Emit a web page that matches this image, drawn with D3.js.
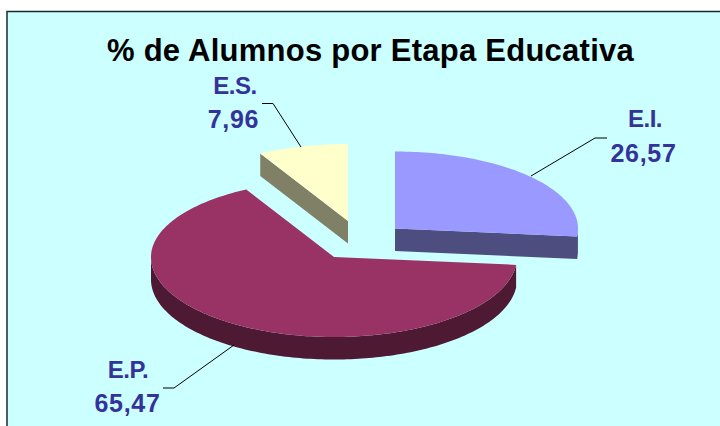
<!DOCTYPE html>
<html>
<head>
<meta charset="utf-8">
<script src="https://cdn.jsdelivr.net/npm/d3@7"></script>
<style>
  html, body { margin: 0; background: #fff; }
  svg { display: block; }
  text { font-family: "Liberation Sans", Arial, sans-serif; font-weight: bold; }
</style>
</head>
<body>
<svg id="chart" width="720" height="426"></svg>
<script>
const categories = ['E.I.', 'E.P.', 'E.S.'];
const values = [26.57, 65.47, 7.96];
const valueLabels = ['26,57', '65,47', '7,96'];
const topColors = ['#9999ff', '#993366', '#ffffcc'];
const sideColors = ['#4d4d80', '#4d1933', '#808066'];

// the near half of the rim is a bit fatter, the original has some perspective
const rx = 183, ryBack = 77, ryFront = 80, depth = 22.5;
// each slice is pulled out of the pie by its own amount
const centers = [[395, 228.5], [334, 257], [348, 221]];
// label position + leader line, per slice
const namePos = [[645, 127], [128, 378], [235, 94]];
const valuePos = [[643.5, 162], [127.5, 412], [233.5, 128]];
const leaders = [
  [[531, 176], [595, 138], [607, 138]],
  [[234, 345], [174, 388], [163, 388]],
  [[301, 147], [273, 103.5], [262, 103.5]]
];

const svg = d3.select('#chart');

// background panel, runs off the right and bottom of the picture
svg.append('rect')
  .attr('x', 7).attr('y', 11.5)
  .attr('width', 730).attr('height', 430)
  .attr('fill', '#ccffff')
  .attr('stroke', '#1a2a2a')
  .attr('stroke-width', 1.5);

svg.append('text')
  .attr('x', 370.5)
  .attr('y', 61)
  .attr('text-anchor', 'middle')
  .attr('fill', '#000')
  .style('font-size', '31px')
  .style('letter-spacing', '0.25px')
  .text('% de Alumnos por Etapa Educativa');

const arcs = d3.pie().sort(null)(values);
const line = d3.line();

// point on the rim, angle clockwise from 12 o'clock
const rim = (c, a) => {
  const cos = Math.cos(a);
  return [c[0] + rx * Math.sin(a), c[1] - (cos > 0 ? ryBack : ryFront) * cos];
};
const rimPoints = (c, from, to) => d3.range(from, to, 0.02).concat(to).map(a => rim(c, a));
const drop = p => [p[0], p[1] + depth];

// draw back to front
[2, 0, 1].forEach(i => {
  const d = arcs[i], c = centers[i];
  const g = svg.append('g');

  // curved wall, only the part of the rim facing the viewer
  const from = Math.max(d.startAngle, Math.PI / 2);
  const to = Math.min(d.endAngle, 3 * Math.PI / 2);
  if (to > from) {
    const upper = rimPoints(c, from, to);
    g.append('path')
      .attr('d', line(upper.concat(upper.map(drop).reverse())) + 'Z')
      .attr('fill', sideColors[i]);
  }

  // flat cut wall: E.I. shows its end cut, E.S. its start cut, E.P. none
  if (i !== 1) {
    const p = rim(c, i === 0 ? d.endAngle : d.startAngle);
    g.append('path')
      .attr('d', line([c, p, drop(p), drop(c)]) + 'Z')
      .attr('fill', sideColors[i]);
  }

  g.append('path')
    .attr('d', line([c].concat(rimPoints(c, d.startAngle, d.endAngle))) + 'Z')
    .attr('fill', topColors[i]);
});

// leader lines
svg.selectAll('.leader')
  .data(leaders)
  .join('path')
  .attr('class', 'leader')
  .attr('d', d => line(d))
  .attr('fill', 'none')
  .attr('stroke', '#000')
  .attr('stroke-width', 1);

// labels
categories.forEach((name, i) => {
  svg.append('text')
    .attr('x', namePos[i][0]).attr('y', namePos[i][1])
    .attr('text-anchor', 'middle')
    .attr('fill', '#333399')
    .style('font-size', '24px')
    .style('letter-spacing', '-0.5px')
    .text(name);
  svg.append('text')
    .attr('x', valuePos[i][0]).attr('y', valuePos[i][1])
    .attr('text-anchor', 'middle')
    .attr('fill', '#333399')
    .style('font-size', '25px')
    .style('letter-spacing', '0.7px')
    .text(valueLabels[i]);
});
</script>
</body>
</html>
